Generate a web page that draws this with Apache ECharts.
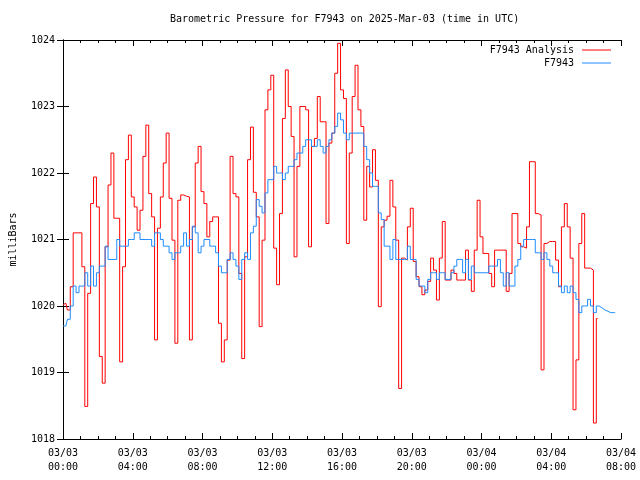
<!DOCTYPE html>
<html><head><meta charset="utf-8">
<script src="https://cdn.jsdelivr.net/npm/echarts@6/dist/echarts.min.js"></script>
<style>html,body{margin:0;padding:0;background:#fff}#c{width:640px;height:480px}</style>
</head><body><div id="c"></div>
<script>
const titleText = 'Barometric Pressure for F7943 on 2025-Mar-03 (time in UTC)';
const yAxisName = 'milliBars';
const seriesNames = ['F7943 Analysis', 'F7943'];
const xTickLabels = ['03/03\n00:00','03/03\n04:00','03/03\n08:00','03/03\n12:00','03/03\n16:00','03/03\n20:00','03/04\n00:00','03/04\n04:00','03/04\n08:00'];
const yTickLabels = ['1018','1019','1020','1021','1022','1023','1024'];
const sampleMinutes = 10; // one reading every 10 minutes from 03/03 00:00 UTC

const analysisValues = [
 1020.02,1020.04,1019.94,1020.29,1021.10,1021.10,1021.10,1020.59,1018.49,1020.19,
 1021.54,1021.94,1021.49,1019.24,1018.84,1020.89,1021.82,1022.30,1021.32,1021.32,
 1019.16,1020.59,1022.20,1022.57,1021.64,1021.49,1021.14,1021.44,1022.25,1022.72,
 1021.69,1021.34,1019.49,1021.17,1021.64,1022.15,1022.60,1021.62,1020.99,1019.44,
 1021.59,1021.67,1021.65,1021.64,1019.49,1021.19,1022.15,1022.40,1021.72,1021.54,
 1021.04,1021.27,1021.34,1021.34,1019.74,1019.16,1019.49,1020.69,1022.25,1021.69,
 1021.64,1020.49,1019.21,1020.74,1022.20,1022.69,1021.71,1021.34,1019.69,1020.99,
 1022.95,1023.25,1023.47,1020.87,1020.32,1021.39,1022.82,1023.55,1023.00,1022.55,
 1020.74,1022.10,1023.00,1023.00,1022.95,1020.89,1022.40,1022.52,1023.15,1022.77,
 1022.77,1021.24,1022.45,1022.60,1023.50,1023.95,1023.25,1023.12,1020.94,1022.30,
 1023.15,1023.62,1022.95,1022.70,1021.29,1022.10,1021.79,1022.35,1021.89,1019.99,
 1021.19,1021.29,1021.35,1021.89,1021.49,1020.99,1018.76,1020.72,1020.69,1021.19,
 1021.47,1020.67,1020.44,1020.29,1020.17,1020.24,1020.37,1020.72,1020.54,1020.09,
 1020.72,1021.27,1020.39,1020.39,1020.54,1020.49,1020.39,1020.39,1020.39,1020.84,
 1020.39,1020.22,1020.84,1021.59,1021.04,1020.79,1020.79,1020.49,1020.29,1020.84,
 1020.84,1020.84,1020.84,1020.22,1020.49,1021.39,1021.39,1020.94,1020.89,1020.87,
 1021.19,1022.17,1022.17,1021.39,1021.37,1019.04,1020.94,1020.97,1020.97,1020.97,
 1020.69,1020.29,1021.19,1021.54,1021.19,1020.72,1018.44,1019.19,1020.94,1021.39,
 1020.57,1020.57,1020.54,1018.24,1019.81
];

const stationValues = [
 1019.7,1019.7,1019.8,1020.0,1020.3,1020.2,1020.3,1020.3,1020.5,1020.3,
 1020.6,1020.3,1020.5,1020.6,1020.6,1020.9,1020.7,1020.7,1020.7,1021.0,
 1020.9,1020.9,1020.9,1021.0,1021.0,1021.1,1021.1,1021.0,1021.0,1021.0,
 1021.0,1020.9,1021.1,1021.1,1021.0,1020.9,1020.9,1020.8,1020.7,1020.8,
 1020.8,1020.9,1021.1,1020.9,1021.0,1021.2,1021.1,1020.8,1020.9,1021.0,
 1021.0,1020.9,1020.9,1020.8,1020.6,1020.5,1020.5,1020.7,1020.8,1020.7,
 1020.6,1020.4,1020.7,1020.8,1020.7,1021.1,1021.2,1021.6,1021.5,1021.4,
 1021.7,1021.9,1021.9,1022.1,1022.0,1022.0,1021.9,1022.0,1022.1,1022.1,
 1022.2,1022.3,1022.3,1022.4,1022.5,1022.5,1022.4,1022.4,1022.5,1022.4,
 1022.3,1022.4,1022.5,1022.6,1022.7,1022.9,1022.8,1022.6,1022.5,1022.6,
 1022.6,1022.6,1022.6,1022.6,1022.4,1022.2,1022.0,1021.8,1021.8,1021.4,
 1021.3,1020.9,1020.9,1020.7,1021.0,1020.7,1020.7,1020.7,1020.7,1020.9,
 1020.7,1020.7,1020.4,1020.3,1020.3,1020.2,1020.4,1020.5,1020.5,1020.4,
 1020.5,1020.5,1020.4,1020.4,1020.5,1020.6,1020.7,1020.7,1020.5,1020.7,
 1020.4,1020.6,1020.5,1020.5,1020.5,1020.5,1020.5,1020.6,1020.6,1020.6,
 1020.7,1020.5,1020.3,1020.5,1020.3,1020.3,1020.6,1020.7,1020.9,1021.0,
 1021.0,1021.0,1021.0,1020.8,1020.8,1020.7,1020.8,1020.7,1020.6,1020.5,
 1020.5,1020.3,1020.2,1020.3,1020.2,1020.3,1020.2,1020.1,1019.9,1020.0,
 1020.0,1020.1,1020.0,1019.9,1020.0,1019.97,1019.94,1019.92,1019.9,1019.9,
 1019.9
];

const FONT = 'DejaVu Sans Mono';
const toPairs = vals => vals.map((v, i) => [i * sampleMinutes / 60, v]);

const chart = echarts.init(document.getElementById('c'), null, {renderer: 'canvas'});

const xBase = {
  type: 'value', min: 0, max: 32, interval: 4,
  axisLine: {show: true, lineStyle: {color: '#000', width: 1}},
  axisTick: {show: true, inside: true, length: 6, lineStyle: {color: '#000'}},
  minorTick: {show: true, splitNumber: 4, length: 3, lineStyle: {color: '#000'}},
  splitLine: {show: false}
};
const yBase = {
  type: 'value', min: 1018, max: 1024, interval: 1,
  axisLine: {show: true, lineStyle: {color: '#000', width: 1}},
  axisTick: {show: true, inside: true, length: 6, lineStyle: {color: '#000'}},
  splitLine: {show: false}
};

chart.setOption({
  animation: false,
  backgroundColor: '#fff',
  title: {
    text: titleText, left: 165, top: 9,
    textStyle: {fontFamily: FONT, fontSize: 10, fontWeight: 'normal', color: '#000'}
  },
  legend: {
    orient: 'vertical', right: 24, top: 39, align: 'right',
    icon: 'rect', itemWidth: 29, itemHeight: 1, itemGap: 1,
    data: seriesNames,
    textStyle: {fontFamily: FONT, fontSize: 10, color: '#000', lineHeight: 12, padding: [0, 3, 0, 0]}
  },
  grid: {left: 59, top: 40, right: 19, bottom: 41, containLabel: false},
  xAxis: [
    Object.assign({}, xBase, {
      position: 'bottom',
      axisLabel: {
        show: true, margin: 7, color: '#000', fontFamily: FONT, fontSize: 10, lineHeight: 14,
        formatter: v => xTickLabels[Math.round(v / 4)] || ''
      }
    }),
    Object.assign({}, xBase, {position: 'top', axisLabel: {show: false}})
  ],
  yAxis: [
    Object.assign({}, yBase, {
      position: 'left',
      name: yAxisName, nameLocation: 'middle', nameRotate: 90, nameGap: 45,
      nameTextStyle: {fontFamily: FONT, fontSize: 10, color: '#000'},
      axisLabel: {
        show: true, margin: 8, color: '#000', fontFamily: FONT, fontSize: 10,
        formatter: v => yTickLabels[Math.round(v - 1018)] || ''
      }
    }),
    Object.assign({}, yBase, {position: 'right', axisLabel: {show: false}})
  ],
  series: [
    {
      name: seriesNames[0], type: 'line', step: 'middle', showSymbol: false, silent: true,
      xAxisIndex: 0, yAxisIndex: 0,
      data: toPairs(analysisValues),
      lineStyle: {color: '#ff0000', width: 1}, itemStyle: {color: '#ff0000'}
    },
    {
      name: seriesNames[1], type: 'line', step: 'middle', showSymbol: false, silent: true,
      xAxisIndex: 0, yAxisIndex: 0,
      data: toPairs(stationValues),
      lineStyle: {color: '#1e8cff', width: 1}, itemStyle: {color: '#1e8cff'}
    }
  ]
});
</script>
</body></html>
